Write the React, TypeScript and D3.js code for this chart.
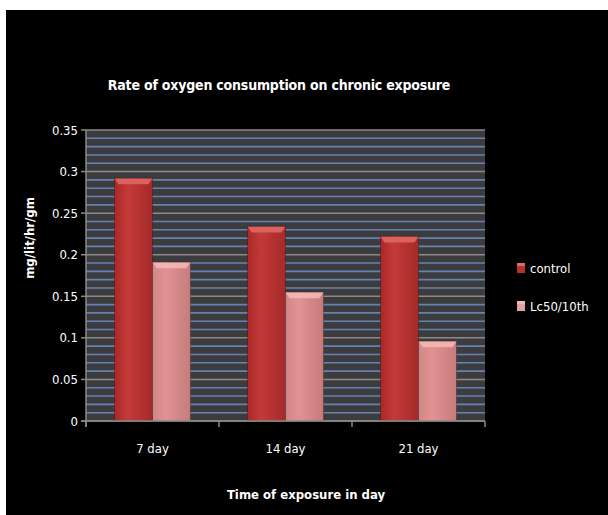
import { useEffect } from 'react';
import * as d3 from 'd3';

const categories = ['7 day', '14 day', '21 day'];
const seriesNames = ['control', 'Lc50/10th'];
const controlValues = [0.292, 0.234, 0.222];
const lc50Values = [0.191, 0.155, 0.096];
const yTicks = [0, 0.05, 0.1, 0.15, 0.2, 0.25, 0.3, 0.35];

const W = 608;
const H = 515;
const margin = { left: 86, top: 130, right: 123, bottom: 94 };
const FONT = "'Liberation Sans Narrow', 'DejaVu Sans Condensed', 'Open Sans', sans-serif";

export default function App() {
  useEffect(() => {
    document.body.style.margin = '0';
    document.body.style.overflow = 'hidden';
  }, []);

  const x0 = d3.scaleBand().domain(categories).range([margin.left, W - margin.right]);
  const x1 = d3.scaleBand().domain(seriesNames).range([0, x0.bandwidth()]).paddingOuter(0.75);
  const y = d3.scaleLinear().domain([0, 0.35]).range([H - margin.bottom, margin.top]);

  const minor = d3.range(0, 36).map(i => i / 100);
  const fills = ['url(#gControl)', 'url(#gLc)'];
  const tops = ['#e06a68', '#f4b8b6'];
  const swatches = ['#b8302f', '#e3a0a0'];
  const rows = categories.map((c, i) => ({ c, vals: [controlValues[i], lc50Values[i]] }));
  const plotW = W - margin.left - margin.right;
  const plotH = H - margin.top - margin.bottom;

  return (
    <svg width={W} height={H} style={{ position: 'fixed', left: 0, top: 0, display: 'block' }}>
      <defs>
        <linearGradient id="gControl" x1="0" x2="1" y1="0" y2="0">
          <stop offset="0%" stopColor="#a82828" />
          <stop offset="35%" stopColor="#c43a38" />
          <stop offset="100%" stopColor="#a42a2a" />
        </linearGradient>
        <linearGradient id="gLc" x1="0" x2="1" y1="0" y2="0">
          <stop offset="0%" stopColor="#d08686" />
          <stop offset="35%" stopColor="#e29292" />
          <stop offset="100%" stopColor="#c67b7b" />
        </linearGradient>
      </defs>
      <rect x={0} y={0} width={W} height={H} fill="#fff" />
      <rect x={6} y={10} width={W - 6} height={H - 10} fill="#000" />

      {/* plot area */}
      <rect x={margin.left} y={margin.top} width={plotW} height={plotH} fill="#3c3c3e" />
      {minor.map(v => {
        const major = Math.round(v * 100) % 5 === 0;
        return (
          <line key={v} x1={margin.left} x2={W - margin.right} y1={y(v)} y2={y(v)}
            stroke={major ? '#8a8a8a' : '#6384b2'} strokeWidth={major ? 1.5 : 1.6} />
        );
      })}

      {/* bars */}
      {rows.map(r => (
        <g key={r.c} transform={`translate(${x0(r.c)},0)`}>
          {r.vals.map((v, j) => {
            const bx = x1(seriesNames[j])!;
            const bw = x1.bandwidth();
            const by = y(v);
            const bh = y(0) - by;
            return (
              <g key={j}>
                <rect x={bx} y={by} width={bw} height={bh} fill={fills[j]} />
                <path d={`M${bx},${by}L${bx + bw},${by}L${bx + bw - 4},${by + 6}L${bx + 4},${by + 6}Z`} fill={tops[j]} opacity={0.85} />
                <rect x={bx} y={by} width={bw} height={bh} fill="none" stroke="#000" strokeOpacity={0.25} strokeWidth={1} />
              </g>
            );
          })}
        </g>
      ))}

      {/* y axis */}
      <line x1={margin.left} x2={margin.left} y1={margin.top} y2={y(0) + 6} stroke="#8a8a8a" strokeWidth={1.5} />
      {yTicks.map(t => (
        <g key={t}>
          <line x1={margin.left - 5} x2={margin.left} y1={y(t)} y2={y(t)} stroke="#8a8a8a" strokeWidth={1.5} />
          <text x={margin.left - 8} y={y(t)} dy="0.35em" textAnchor="end" fill="#fff" fontFamily={FONT} fontSize={13}>
            {t}
          </text>
        </g>
      ))}

      {/* x axis */}
      <line x1={margin.left - 5} x2={W - margin.right} y1={y(0)} y2={y(0)} stroke="#8a8a8a" strokeWidth={1.5} />
      {[...categories.map(c => x0(c)!), W - margin.right].map((xx, i) => (
        <line key={i} x1={xx} x2={xx} y1={y(0)} y2={y(0) + 6} stroke="#8a8a8a" strokeWidth={1.5} />
      ))}
      {categories.map(c => (
        <text key={c} x={x0(c)! + x0.bandwidth() / 2} y={448} dy="0.35em" textAnchor="middle" fill="#fff" fontFamily={FONT} fontSize={13}>
          {c}
        </text>
      ))}

      {/* titles */}
      <text x={279} y={85} dy="0.35em" textAnchor="middle" fill="#fff" fontFamily={FONT} fontSize={14} letterSpacing={-0.2} fontWeight="bold">
        Rate of oxygen consumption on chronic exposure
      </text>
      <text x={306} y={494} dy="0.35em" textAnchor="middle" fill="#fff" fontFamily={FONT} fontSize={13} fontWeight="bold">
        Time of exposure in day
      </text>
      <text transform="translate(29,238) rotate(-90)" dy="0.35em" textAnchor="middle" fill="#fff" fontFamily={FONT} fontSize={13} fontWeight="bold">
        mg/lit/hr/gm
      </text>

      {/* legend */}
      {seriesNames.map((s, i) => (
        <g key={s} transform={`translate(517,${268 + i * 38})`}>
          <rect x={0} y={-5} width={8} height={10} fill={swatches[i]} />
          <rect x={0} y={-5} width={8} height={3} fill={tops[i]} />
          <text x={13} y={0} dy="0.35em" fill="#fff" fontFamily={FONT} fontSize={13}>{s}</text>
        </g>
      ))}
    </svg>
  );
}
